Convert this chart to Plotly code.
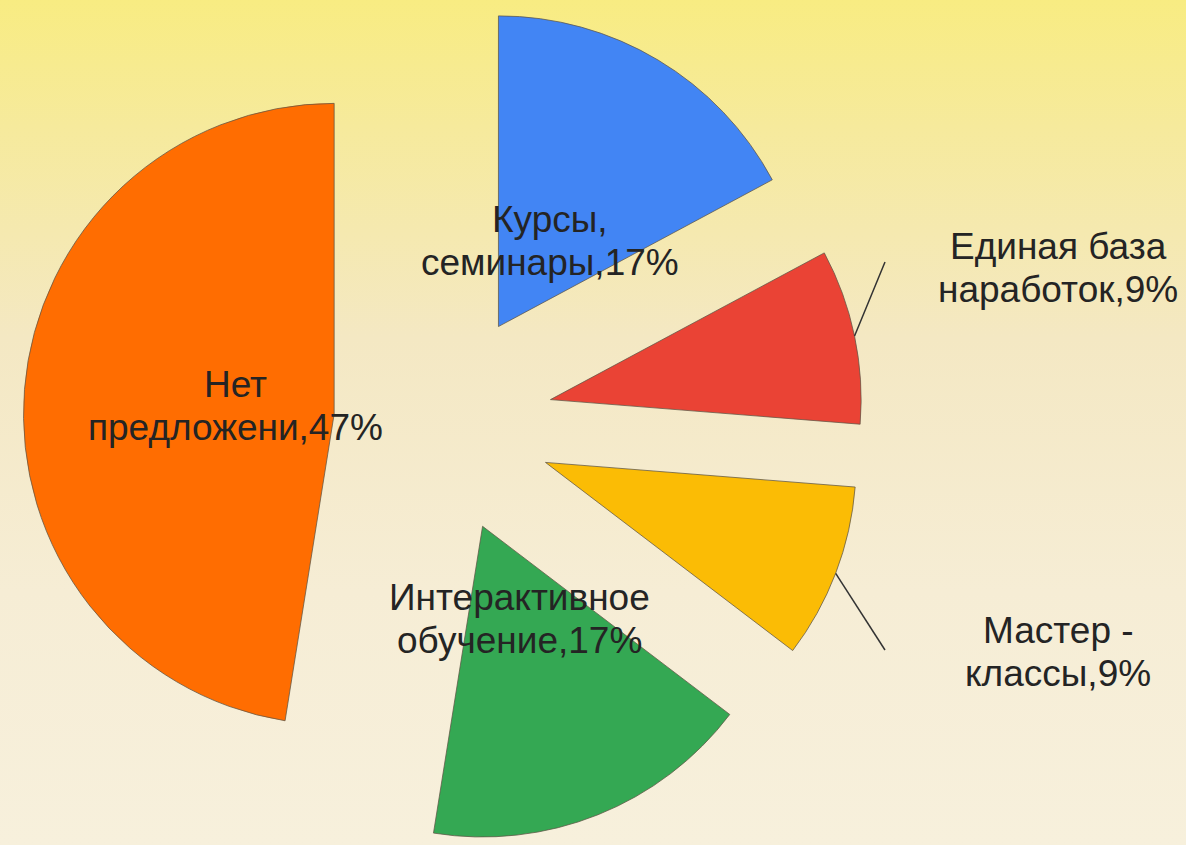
import math
import base64
import plotly.graph_objects as go

# ---- data ----
categories = ["Курсы,|семинары", "Единая база|наработок", "Мастер -|классы",
              "Интерактивное|обучение", "Нет|предложени"]
values = [17, 9, 9, 17, 47]
colors = ["#4285F4", "#EA4335", "#FBBC05", "#34A853", "#FF6D01"]
pulls = [0.36, 0.36, 0.36, 0.36, 0.345]
label_outside = [False, True, True, False, False]

W, H = 1186, 845
CX_PX = 441.0
dom_x = [0.0, 2 * CX_PX / W]
FONT_SIZE = 37
LINE_GAP = 43  # px between baselines

# geometry that plotly uses for the pie (margins 0, domain y [0,1])
box_w = W * (dom_x[1] - dom_x[0])
box_h = H
r = min(box_w, box_h) / 2 / (1 + max(pulls))
cx = W * (dom_x[0] + dom_x[1]) / 2
cy = H / 2
total = sum(values)

def px_to_paper(x, y):
    return x / W, 1 - y / H

annotations = []
shapes = []

def add_label(text, x, y):
    lines = text.split("|")
    n = len(lines)
    for i, ln in enumerate(lines):
        yy = y + (i - (n - 1) / 2) * LINE_GAP
        xp, yp = px_to_paper(x, yy)
        annotations.append(dict(x=xp, y=yp, xref="paper", yref="paper", text=ln,
                                showarrow=False, xanchor="center", yanchor="middle",
                                font=dict(size=FONT_SIZE, color="#242424")))

cum = 0.0
for cat, v, p, outside in zip(categories, values, pulls, label_outside):
    mid = math.radians(90 - 360 * (cum + v / 2) / total)
    cum += v
    pct = round(v / total * 100)
    text = f"{cat},{pct}%"
    ax = cx + p * r * math.cos(mid)
    ay = cy - p * r * math.sin(mid)
    if not outside:
        lx = ax + 0.32 * r * math.cos(mid)
        ly = ay - 0.32 * r * math.sin(mid)
        add_label(text, lx, ly)
    else:
        sx = ax + r * math.cos(mid)
        sy = ay - r * math.sin(mid)
        if math.sin(mid) > 0:
            ex, ey = 885, 262
            tx, ty = ex + 173, ey + 6
        else:
            ex, ey = 885, 650
            tx, ty = ex + 173, ey + 2
        x0p, y0p = px_to_paper(sx, sy)
        x1p, y1p = px_to_paper(ex, ey)
        shapes.append(dict(type="line", xref="paper", yref="paper", x0=x0p, y0=y0p,
                           x1=x1p, y1=y1p, line=dict(color="#333333", width=1.5)))
        add_label(text, tx, ty)

# background gradient as an SVG image
svg = f'''<svg xmlns="http://www.w3.org/2000/svg" width="{W}" height="{H}" preserveAspectRatio="none">
<defs><linearGradient id="g" x1="0" y1="0" x2="0" y2="1">
<stop offset="0" stop-color="#f8ec82"/>
<stop offset="0.15" stop-color="#f6ea9c"/>
<stop offset="0.4" stop-color="#f4e8c3"/>
<stop offset="0.7" stop-color="#f6edd5"/>
<stop offset="1" stop-color="#f7f0dc"/>
</linearGradient></defs>
<rect x="0" y="0" width="{W}" height="{H}" fill="url(#g)"/></svg>'''
bg_uri = "data:image/svg+xml;base64," + base64.b64encode(svg.encode("utf-8")).decode("ascii")

fig = go.Figure(go.Pie(
    labels=[c.replace("|", " ") for c in categories], values=values, sort=False,
    direction="clockwise", rotation=0,
    marker=dict(colors=colors, line=dict(color="rgba(95,85,70,0.75)", width=1)),
    pull=pulls, textinfo="none", hoverinfo="skip", showlegend=False,
    domain=dict(x=dom_x, y=[0, 1]),
))

fig.update_layout(
    width=W, height=H, margin=dict(l=0, r=0, t=0, b=0),
    paper_bgcolor="#f6eed6", plot_bgcolor="rgba(0,0,0,0)",
    font=dict(family="Arial, Liberation Sans, sans-serif"),
    annotations=annotations, shapes=shapes,
    images=[dict(source=bg_uri, xref="paper", yref="paper", x=0, y=1, sizex=1, sizey=1,
                 xanchor="left", yanchor="top", sizing="stretch", layer="below")],
)

fig.write_html("out.html", config={"displayModeBar": False},
               post_script="document.body.style.margin='0';document.body.style.padding='0';"
                           "document.body.style.overflow='hidden';")
